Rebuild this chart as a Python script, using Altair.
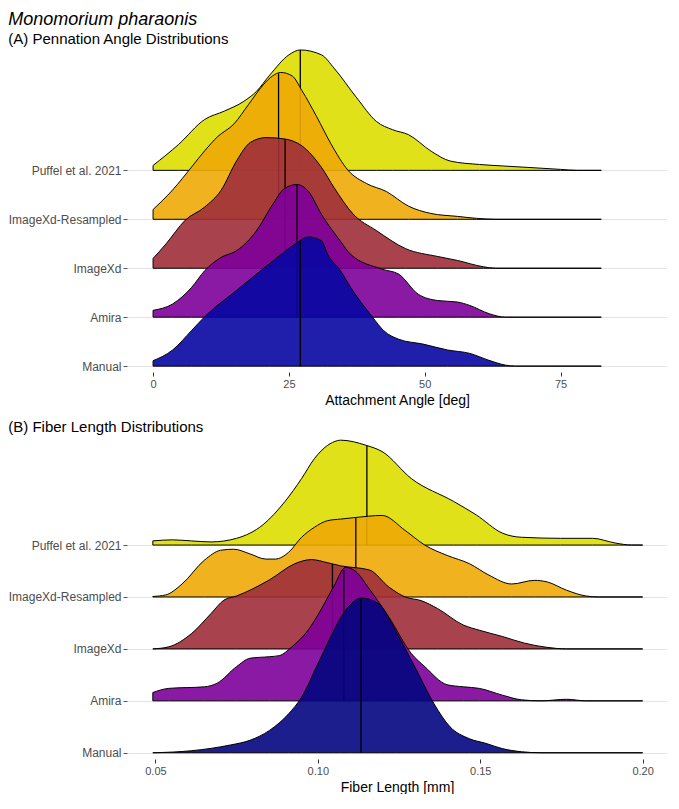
import altair as alt
import pandas as pd
import numpy as np

FONT = "Liberation Sans, Arial, Helvetica, sans-serif"

# Row order (top to bottom) and baseline index
NAMES = ["Puffel et al. 2021", "ImageXd-Resampled", "ImageXd", "Amira", "Manual"]
BASES = [4, 3, 2, 1, 0]

# ---------------- Panel A: attachment angle [deg] (density heights in row units)
A_PUF_X = [0, 4.7, 9.5, 13.1, 16.7, 19.0, 21.5, 25.0, 27.1, 31.0, 33.3, 37.5, 41.1, 44.1, 47.0, 51.2, 54.7, 60.1, 64.3, 69.0, 75.0, 78.0, 82.5]
A_PUF_H = [0.10, 0.53, 1.04, 1.21, 1.41, 1.61, 1.95, 2.36, 2.46, 2.36, 2.09, 1.48, 1.00, 0.83, 0.73, 0.39, 0.19, 0.12, 0.09, 0.06, 0.02, 0.0, 0.0]
A_RES_X = [0, 3.6, 7.1, 9.5, 11.9, 14.9, 17.6, 20.3, 22.0, 23.5, 25.6, 27.4, 30.1, 32.7, 35.9, 39.3, 42.9, 47.0, 51.1, 56.0, 59.5, 63.1, 82.5]
A_RES_H = [0.20, 0.60, 1.07, 1.40, 1.69, 1.95, 2.35, 2.75, 2.93, 3.00, 2.93, 2.63, 2.10, 1.55, 1.00, 0.73, 0.57, 0.27, 0.12, 0.06, 0.02, 0.0, 0.0]
A_IXD_X = [0, 2.4, 5.9, 9.5, 12.5, 15.4, 17.9, 20.8, 24.3, 27.4, 31.0, 33.3, 36.8, 41.1, 46.5, 52.4, 56.0, 60.8, 63.1, 82.5]
A_IXD_H = [0.20, 0.50, 0.98, 1.25, 1.59, 2.20, 2.57, 2.67, 2.64, 2.50, 2.06, 1.65, 1.11, 0.77, 0.40, 0.24, 0.16, 0.03, 0.0, 0.0]
A_AMI_X = [0, 3.6, 7.1, 9.5, 12.5, 15.4, 19.0, 22.0, 24.3, 26.5, 28.6, 31.0, 34.5, 36.3, 42.2, 45.2, 48.8, 52.4, 56.0, 58.3, 61.9, 64.9, 82.5]
A_AMI_H = [0.14, 0.27, 0.61, 0.95, 1.22, 1.36, 1.76, 2.30, 2.64, 2.71, 2.57, 2.10, 1.55, 1.29, 0.98, 0.88, 0.47, 0.34, 0.31, 0.24, 0.07, 0.0, 0.0]
A_MAN_X = [0, 3.6, 7.1, 9.5, 15.4, 21.4, 26.1, 28.6, 31.0, 32.1, 34.5, 36.3, 40.4, 42.5, 45.2, 49.7, 54.2, 58.3, 61.8, 64.9, 66.7, 82.5]
A_MAN_H = [0.11, 0.33, 0.73, 1.01, 1.55, 2.09, 2.49, 2.64, 2.56, 2.29, 1.95, 1.62, 1.00, 0.72, 0.55, 0.45, 0.33, 0.26, 0.12, 0.02, 0.0, 0.0]
A_MEDIANS = [27.1, 23.1, 24.3, 26.5, 27.1]

# ---------------- Panel B: fiber length [mm]
B_PUF_X = [0.0492, 0.0552, 0.0611, 0.0671, 0.0750, 0.0831, 0.0899, 0.0950, 0.0989, 0.1030, 0.1060, 0.1070, 0.1149, 0.1198, 0.1288, 0.1418, 0.1488, 0.1568, 0.1627, 0.1747, 0.1846, 0.1915, 0.1966, 0.2000]
B_PUF_H = [0.08, 0.10, 0.08, 0.06, 0.13, 0.39, 0.84, 1.28, 1.66, 1.92, 2.01, 2.02, 1.92, 1.80, 1.28, 0.84, 0.58, 0.23, 0.15, 0.13, 0.13, 0.04, 0.0, 0.0]
B_RES_X = [0.0492, 0.0532, 0.0582, 0.0651, 0.0701, 0.0741, 0.0791, 0.0840, 0.0869, 0.0910, 0.0950, 0.0989, 0.1030, 0.1070, 0.1115, 0.1198, 0.1269, 0.1329, 0.1398, 0.1467, 0.1527, 0.1597, 0.1667, 0.1706, 0.1766, 0.1825, 0.1866, 0.2000]
B_RES_H = [0.01, 0.04, 0.25, 0.71, 0.90, 0.92, 0.83, 0.73, 0.73, 0.86, 1.15, 1.34, 1.47, 1.50, 1.53, 1.57, 1.28, 1.00, 0.80, 0.64, 0.42, 0.25, 0.32, 0.29, 0.13, 0.02, 0.0, 0.0]
B_IXD_X = [0.0492, 0.0541, 0.0612, 0.0671, 0.0711, 0.0750, 0.0851, 0.0929, 0.0980, 0.1030, 0.1070, 0.1159, 0.1219, 0.1269, 0.1318, 0.1368, 0.1448, 0.1497, 0.1568, 0.1637, 0.1706, 0.1766, 0.2000]
B_IXD_H = [0.0, 0.04, 0.30, 0.68, 0.94, 1.02, 1.33, 1.64, 1.72, 1.66, 1.60, 1.52, 1.19, 1.00, 0.93, 0.78, 0.46, 0.36, 0.24, 0.11, 0.03, 0.0, 0.0]
B_AMI_X = [0.0492, 0.0541, 0.0651, 0.0690, 0.0750, 0.0791, 0.0851, 0.0881, 0.0920, 0.0970, 0.1000, 0.1049, 0.1085, 0.1115, 0.1159, 0.1219, 0.1288, 0.1329, 0.1398, 0.1448, 0.1497, 0.1568, 0.1627, 0.1687, 0.1766, 0.1825, 0.2000]
B_AMI_H = [0.16, 0.24, 0.27, 0.34, 0.66, 0.82, 0.85, 0.87, 1.04, 1.36, 1.65, 2.20, 2.57, 2.50, 2.15, 1.61, 0.91, 0.66, 0.31, 0.27, 0.24, 0.11, 0.02, 0.0, 0.03, 0.0, 0.0]
B_MAN_X = [0.0492, 0.0612, 0.0731, 0.0791, 0.0851, 0.0910, 0.0950, 0.1000, 0.1049, 0.1070, 0.1100, 0.1134, 0.1189, 0.1239, 0.1299, 0.1358, 0.1407, 0.1467, 0.1518, 0.1568, 0.1627, 0.1687, 0.2000]
B_MAN_H = [0.0, 0.04, 0.15, 0.24, 0.43, 0.75, 1.07, 1.71, 2.35, 2.60, 2.85, 2.98, 2.86, 2.35, 1.65, 0.94, 0.50, 0.27, 0.18, 0.08, 0.02, 0.0, 0.0]
B_MEDIANS = [0.1151, 0.1117, 0.1045, 0.1080, 0.1133]

# Fill colours per row (top to bottom)
A_COLORS = ["#DEDE00", "#EEAA06", "#9E2E3A", "#7D009A", "#0707A2"]
B_COLORS = ["#DEDE00", "#EEAA06", "#9E2E3A", "#7D009A", "#02057F"]

LABEL_EXPR = ("['Manual','Amira','ImageXd','ImageXd-Resampled','Puffel et al. 2021'][datum.value]")


def panel(xs_list, hs_list, medians, colors, xdomain, xticks, xfmt, xtitle, ydomain, title, height):
    x_enc = alt.X(
        "x:Q",
        scale=alt.Scale(domain=xdomain, nice=False, zero=False),
        axis=alt.Axis(values=xticks, format=xfmt, grid=False, domain=False,
                      tickSize=4, tickColor="#333333", tickWidth=1,
                      labelFontSize=11, labelColor="#4D4D4D", labelPadding=2,
                      labelFlush=False, labelFont=FONT,
                      title=xtitle, titleFontSize=14, titleFontWeight="normal",
                      titleColor="#000000", titlePadding=4, titleFont=FONT),
    )
    y_axis = alt.Axis(values=[0, 1, 2, 3, 4], labelExpr=LABEL_EXPR, grid=True,
                      gridColor="#E3E3E3", gridWidth=1, domain=False,
                      tickSize=4, tickColor="#555555", labelFontSize=12,
                      labelColor="#4D4D4D", labelPadding=2, labelFont=FONT, title=None)
    y_scale = alt.Scale(domain=ydomain, nice=False, zero=False)
    layers = []
    for name, base, xs, hs, med, col in zip(NAMES, BASES, xs_list, hs_list, medians, colors):
        df = pd.DataFrame({"x": xs, "top": [base + h for h in hs], "base": [base] * len(xs)})
        area = alt.Chart(df).mark_area(
            interpolate="monotone", fill=col, fillOpacity=0.9,
            stroke="black", strokeWidth=1, strokeJoin="round",
        ).encode(x=x_enc, y=alt.Y("top:Q", scale=y_scale, axis=y_axis), y2="base:Q")
        mdf = pd.DataFrame({"x": [med], "top": [base + float(np.interp(med, xs, hs))], "base": [base]})
        rule = alt.Chart(mdf).mark_rule(color="black", strokeWidth=1.3).encode(
            x=x_enc, y=alt.Y("top:Q", scale=y_scale, axis=y_axis), y2="base:Q")
        layers += [area, rule]
    return alt.layer(*layers).properties(
        width=540, height=height,
        title=alt.TitleParams(title, anchor="start", frame="bounds", fontSize=15,
                              fontWeight="normal", color="#000000", font=FONT, offset=1),
    )


pA = panel([A_PUF_X, A_RES_X, A_IXD_X, A_AMI_X, A_MAN_X],
           [A_PUF_H, A_RES_H, A_IXD_H, A_AMI_H, A_MAN_H],
           A_MEDIANS, A_COLORS, [-4.8, 94.6], [0, 25, 50, 75], "d",
           "Attachment Angle [deg]", [-0.12, 6.5],
           "(A)  Pennation Angle Distributions", 324)

pB = panel([B_PUF_X, B_RES_X, B_IXD_X, B_AMI_X, B_MAN_X],
           [B_PUF_H, B_RES_H, B_IXD_H, B_AMI_H, B_MAN_H],
           B_MEDIANS, B_COLORS, [0.04125, 0.2075], [0.05, 0.10, 0.15, 0.20], ".2f",
           "Fiber Length [mm]", [-0.12, 6.1],
           "(B)  Fiber Length Distributions", 323)

chart = alt.vconcat(pA, pB, spacing=13).properties(
    title=alt.TitleParams("Monomorium pharaonis", anchor="start", fontSize=18,
                          fontStyle="italic", fontWeight="normal", color="#000000",
                          font=FONT, offset=3),
    padding={"top": 3, "left": 0, "right": 0, "bottom": 0},
    background="white",
).configure_view(stroke=None)

chart.save("out.html", embed_options={"renderer": "svg", "actions": False})
